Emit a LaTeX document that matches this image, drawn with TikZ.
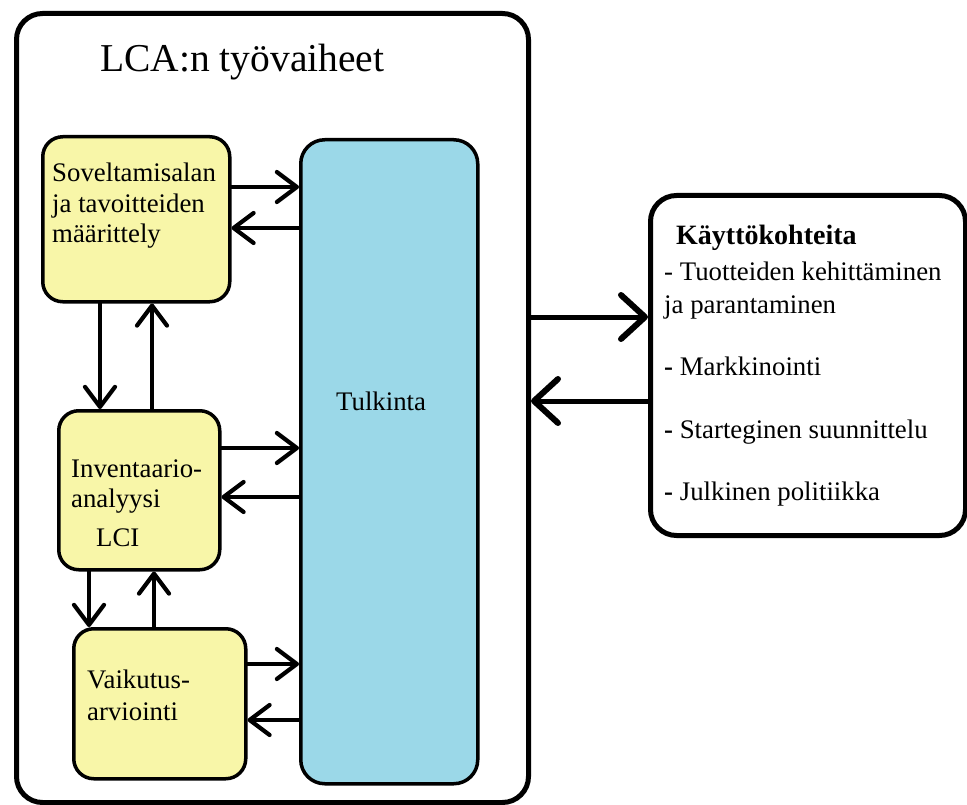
\documentclass[tikz,border=0pt]{standalone}
\usepackage{fontspec}
\setmainfont{Liberation Serif}
\usetikzlibrary{arrows.meta}
\definecolor{phaseyellow}{HTML}{F8F6A8}
\definecolor{interpblue}{HTML}{9BD8E8}
\begin{document}
\begin{tikzpicture}[x=1pt,y=-1pt,
  frame/.style={draw,line width=5pt,rounded corners=26pt,inner sep=0pt,anchor=north west},
  phase/.style={draw,line width=3.5pt,fill=phaseyellow,rounded corners=20pt,inner sep=0pt,anchor=north west},
  interp/.style={draw,line width=3.5pt,fill=interpblue,rounded corners=24pt,inner sep=0pt,anchor=north west},
  txt/.style={anchor=base west,inner sep=0pt,font=\fontsize{26.8}{30}\selectfont},
  thinarrow/.style={line width=3.2pt,line cap=round,-{Straight Barb[length=20pt,width=30pt,line width=4.2pt,round]}},
  thickarrow/.style={line width=5pt,line cap=round,-{Straight Barb[length=24pt,width=44pt,line width=6pt,round]}}]
\useasboundingbox (0,0) rectangle (967,805);

% frames
\node[frame,minimum width=512pt,minimum height=789pt] (lca) at (14,11) {};
\node[anchor=base west,inner sep=0pt,font=\fontsize{39.5}{44}\selectfont] (title) at (100,72) {LCA:n työvaiheet};

% interpretation column
\node[interp,minimum width=177pt,minimum height=644pt] (tul) at (299,138) {};
\node[txt] (tultxt) at (336,410) {Tulkinta};

% phase boxes
\node[phase,minimum width=187pt,minimum height=165pt] (goal) at (41,135) {};
\node[txt] (g1) at (52,182) {Soveltamisalan};
\node[txt] (g2) at (52,213) {ja tavoitteiden};
\node[txt] (g3) at (52,243) {määrittely};

\node[phase,minimum width=161pt,minimum height=159pt] (inv) at (57,409) {};
\node[txt] (i1) at (71,477) {Inventaario-};
\node[txt] (i2) at (71,507) {analyysi};
\node[txt] (i3) at (96,546) {LCI};

\node[phase,minimum width=172pt,minimum height=150pt] (imp) at (72,627) {};
\node[txt] (v1) at (87,688) {Vaikutus-};
\node[txt] (v2) at (87,720) {arviointi};

% applications box
\node[frame,minimum width=315pt,minimum height=340pt] (use) at (648,193) {};
\node[txt,font=\fontsize{28}{30}\selectfont\bfseries] (u0) at (676,245) {Käyttökohteita};
\node[txt] (u1) at (664,280) {- Tuotteiden kehittäminen};
\node[txt] (u2) at (664,313) {ja parantaminen};
\node[txt] (u3) at (664,375) {\textbf{-} Markkinointi};
\node[txt] (u4) at (664,438) {\textbf{-} Starteginen suunnittelu};
\node[txt] (u5) at (664,500) {\textbf{-} Julkinen politiikka};

% connector levels
\coordinate (h1) at (0,187);
\coordinate (h2) at (0,228);
\coordinate (h3) at (0,448);
\coordinate (h4) at (0,497);
\coordinate (h5) at (0,664);
\coordinate (h6) at (0,720);
\coordinate (h7) at (0,317);
\coordinate (h8) at (0,401);
\coordinate (c1) at (100,0);
\coordinate (c2) at (152,0);
\coordinate (c3) at (89,0);
\coordinate (c4) at (154,0);

% phases <-> interpretation
\draw[thinarrow] (goal.east |- h1) -- (tul.west |- h1);
\draw[thinarrow] (tul.west |- h2) -- (goal.east |- h2);
\draw[thinarrow] (inv.east |- h3) -- (tul.west |- h3);
\draw[thinarrow] (tul.west |- h4) -- (inv.east |- h4);
\draw[thinarrow] (imp.east |- h5) -- (tul.west |- h5);
\draw[thinarrow] (tul.west |- h6) -- (imp.east |- h6);

% phase to phase
\draw[thinarrow] (goal.south -| c1) -- (inv.north -| c1);
\draw[thinarrow] (inv.north -| c2) -- (goal.south -| c2);
\draw[thinarrow] (inv.south -| c3) -- (imp.north -| c3);
\draw[thinarrow] (imp.north -| c4) -- (inv.south -| c4);

% LCA <-> applications
\draw[thickarrow] (lca.east |- h7) -- (use.west |- h7);
\draw[thickarrow] (use.west |- h8) -- (lca.east |- h8);
\end{tikzpicture}
\end{document}
